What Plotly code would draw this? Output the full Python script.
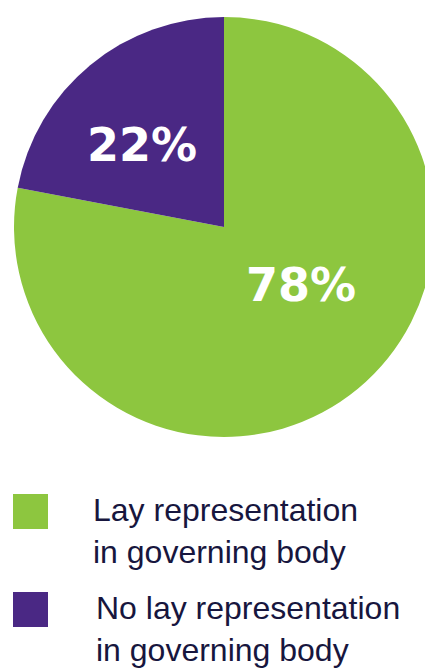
import plotly.graph_objects as go

# Share of bodies with / without lay representation
categories = ["Lay representation in governing body",
              "No lay representation in governing body"]
legend_text = ["Lay representation<br>in governing body",
               "No lay representation<br>in governing body"]
values = [78, 22]
colors = ["#8DC63F", "#4A2884"]

W, H = 436, 668

fig = go.Figure()
fig.add_trace(go.Pie(
    labels=categories,
    values=values,
    sort=False,
    direction="clockwise",
    rotation=0,
    marker=dict(colors=colors, line=dict(width=0)),
    textinfo="none",
    hoverinfo="label+percent",
    showlegend=False,
    domain=dict(x=[14 / W, 434 / W], y=[1 - 437 / H, 1 - 17 / H]),
))

# Percentage labels placed inside each slice
label_pos = [(301, 285), (142, 145)]
for v, (px, py) in zip(values, label_pos):
    fig.add_annotation(text=f"{v}%", xref="paper", yref="paper",
                       x=px / W, y=1 - py / H,
                       xanchor="center", yanchor="middle", showarrow=False,
                       font=dict(family="DejaVu Sans", size=46,
                                 color="white", weight="bold"))

# Legend: colour swatch plus two-line caption per category
swatch_top = [494, 592]
caption_mid = [531, 629]
caption_left = [91, 94]
for i, txt in enumerate(legend_text):
    fig.add_shape(type="rect", xref="paper", yref="paper",
                  x0=13 / W, x1=48 / W,
                  y0=1 - (swatch_top[i] + 35) / H, y1=1 - swatch_top[i] / H,
                  fillcolor=colors[i], line=dict(width=0))
    fig.add_annotation(text=txt, xref="paper", yref="paper",
                       x=caption_left[i] / W, y=1 - caption_mid[i] / H,
                       xanchor="left", yanchor="middle", align="left",
                       showarrow=False,
                       font=dict(family="Liberation Sans", size=32,
                                 color="#17163E"))

fig.update_layout(
    width=W, height=H,
    margin=dict(l=0, r=0, t=0, b=0),
    paper_bgcolor="white",
    plot_bgcolor="white",
)

fig.write_html("out.html",
               post_script="document.body.style.overflow='hidden';"
                           "document.documentElement.style.overflow='hidden';")
